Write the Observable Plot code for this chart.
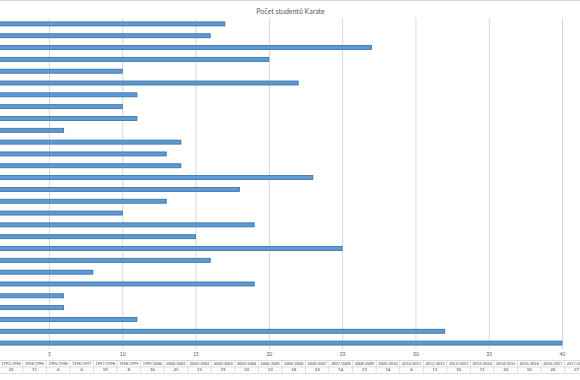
<!DOCTYPE html>
<html>
<head>
<meta charset="utf-8">
<script src="https://cdn.jsdelivr.net/npm/d3@7"></script>
<script src="https://cdn.jsdelivr.net/npm/@observablehq/plot@0.6"></script>
<style>
  html, body { margin: 0; padding: 0; background: #fff; overflow: hidden; }
  svg { display: block; overflow: hidden; }
</style>
</head>
<body>
<div id="chart"></div>
<script>
const title = "Počet studentů Karate";
const years = ["1992/1993","1993/1994","1994/1995","1995/1996","1996/1997","1997/1998","1998/1999","1999/2000","2000/2001","2001/2002","2002/2003","2003/2004","2004/2005","2005/2006","2006/2007","2007/2008","2008/2009","2009/2010","2010/2011","2011/2012","2012/2013","2013/2014","2014/2015","2015/2016","2016/2017","2017/2018","2018/2019","2019/2020"];
const students = [40,32,11,6,6,19,8,16,25,15,19,10,13,18,23,14,13,14,6,11,10,11,22,10,20,27,16,17];
const xTicks = [5,10,15,20,25,30,35,40];
const xMax = 45;

const data = years.map((year, i) => ({year, value: students[i], i}));

const font = "Lato, 'Open Sans', sans-serif";
const chart = Plot.plot({
  width: 580,
  height: 380,
  marginTop: 18,
  marginBottom: 31,
  marginLeft: 0,
  marginRight: 0,
  style: {fontFamily: font, background: "#fff", overflow: "hidden"},
  x: {domain: [0, xMax], range: [-24.3, 635.3], label: null},
  y: {domain: years.slice().reverse(), paddingInner: 0.66, paddingOuter: 0.33, round: false, axis: null},
  marks: [
    Plot.gridX(xTicks, {stroke: "#d9d9d9", strokeOpacity: 1, strokeWidth: 1}),
    Plot.barX(data, {x: "value", y: "year", fill: "#5b9bd5", stroke: "#3c6e9f", strokeWidth: 0.8}),
    Plot.axisX(xTicks, {tickSize: 0, tickPadding: 3, fontSize: 5, color: "#595959", label: null}),
    Plot.text([title], {frameAnchor: "top", dy: -9.5, fontSize: 7, fill: "#595959", fontFamily: font})
  ]
});

document.getElementById("chart").appendChild(chart);

// Data table under the axis, aligned with the library's x scale
const xs = chart.scale("x");
const X = v => xs.apply(v);
const colW = xMax / years.length;
const svg = d3.select(chart);
const tbl = svg.append("g").attr("font-family", font).attr("fill", "#404040");
const rowTop = 360.5, rowMid = 367, rowBot = 373.5;
[rowTop, rowMid, rowBot].forEach(yy => {
  tbl.append("line").attr("x1", X(0)).attr("x2", X(xMax)).attr("y1", yy).attr("y2", yy)
    .attr("stroke", "#d4d4d4").attr("stroke-width", 0.8);
});
d3.range(years.length + 1).forEach(i => {
  tbl.append("line").attr("x1", X(i * colW)).attr("x2", X(i * colW)).attr("y1", rowTop).attr("y2", rowBot)
    .attr("stroke", "#d4d4d4").attr("stroke-width", 0.8);
});
data.forEach(d => {
  const cx = X((d.i + 0.5) * colW);
  tbl.append("text").attr("x", cx).attr("y", 363.8).attr("text-anchor", "middle")
    .attr("dominant-baseline", "middle").attr("font-size", 3.8).text(d.year);
  tbl.append("text").attr("x", cx).attr("y", 370.3).attr("text-anchor", "middle")
    .attr("dominant-baseline", "middle").attr("font-size", 4.3).text(d.value);
});
// chart border at top
svg.append("line").attr("x1", 0).attr("x2", 580).attr("y1", 0.5).attr("y2", 0.5)
  .attr("stroke", "#d9d9d9").attr("stroke-width", 1);
</script>
</body>
</html>
